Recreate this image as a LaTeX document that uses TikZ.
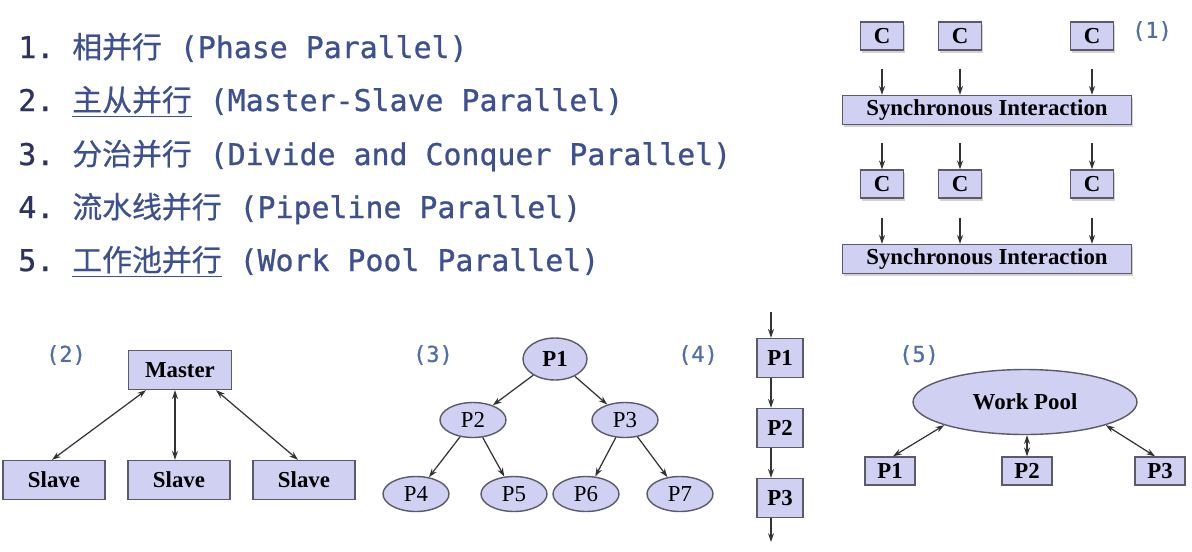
\documentclass[tikz,border=0pt]{standalone}
\usepackage{fontspec}
\setmainfont{Liberation Serif}
\setmonofont[FakeBold=0.8]{DejaVu Sans Mono}
\newfontfamily\cjk[FakeBold=0.6]{Noto Sans CJK SC}
\usepackage{xcolor}
\usepackage{tikz}
\usetikzlibrary{arrows.meta,positioning,shapes.geometric,calc,shadows}

\definecolor{listblue}{HTML}{3D5191}
\definecolor{numblue}{HTML}{2E3262}
\definecolor{tagblue}{HTML}{4F6FA6}
\definecolor{boxfill}{HTML}{D0D0F2}
\definecolor{boxline}{HTML}{5A5A6A}

\begin{document}
\begin{tikzpicture}[
  x=0.02cm, y=-0.02cm,
  item/.style={anchor=base west, inner sep=0pt, font=\ttfamily\fontsize{17}{20}\selectfont, text=listblue},
  tag/.style={inner sep=0pt, font=\ttfamily\fontsize{12.5}{15}\selectfont, text=tagblue},
  box/.style={rectangle, draw=boxline, fill=boxfill, line width=0.8pt, inner sep=0pt, font=\bfseries\fontsize{13}{15}\selectfont},
  shade/.style={drop shadow={shadow xshift=1pt, shadow yshift=-1.5pt, opacity=0.35}},
  ell/.style={ellipse, draw=boxline, fill=boxfill, line width=0.8pt, inner sep=0pt, font=\fontsize{13}{15}\selectfont, minimum width=1.32cm, minimum height=0.7cm},
  arr/.style={draw=black!80, line width=0.7pt, -{Stealth[length=5pt,width=3.4pt]}},
  darr/.style={draw=black!80, line width=0.7pt, {Stealth[length=5pt,width=3.4pt]}-{Stealth[length=5pt,width=3.4pt]}}
]
  \fill[white] (0,0) rectangle (1192,551);
  \useasboundingbox (0,0) rectangle (1192,551);

  % list of patterns
  \node[item] (l1) at (18,58) {\textcolor{numblue}{1.} {\cjk 相并行} (Phase Parallel)};
  \node[item] (l2) at (18,111) {\textcolor{numblue}{2.} \underline{\cjk 主从并行} (Master-Slave Parallel)};
  \node[item] (l3) at (18,165) {\textcolor{numblue}{3.} {\cjk 分治并行} (Divide and Conquer Parallel)};
  \node[item] (l4) at (18,218) {\textcolor{numblue}{4.} {\cjk 流水线并行} (Pipeline Parallel)};
  \node[item] (l5) at (18,271) {\textcolor{numblue}{5.} \underline{\cjk 工作池并行} (Work Pool Parallel)};

  % (1) phase parallel
  \node[tag] (tag1) at (1152,31) {(1)};
  \foreach \n/\x/\y in {c1/882/36, c2/960/36, c3/1092/36, c4/882/184, c5/960/184, c6/1092/184}
    \node[box, shade, minimum width=0.86cm, minimum height=0.56cm] (\n) at (\x,\y) {C};
  \node[box, shade, minimum width=5.78cm, minimum height=0.58cm] (si1) at (987,110) {Synchronous Interaction};
  \node[box, shade, minimum width=5.78cm, minimum height=0.58cm] (si2) at (987,259) {Synchronous Interaction};
  \foreach \a/\b in {c1/c4, c2/c5, c3/c6} {
    \draw[arr, shorten <=0.36cm] (\a.south) -- (\a.south |- si1.north);
    \draw[arr, shorten <=0.36cm] (\b.north |- si1.south) -- (\b.north);
    \draw[arr, shorten <=0.38cm] (\b.south) -- (\b.south |- si2.north);
  }

  % (2) master-slave
  \node[tag] (tag2) at (66,355) {(2)};
  \node[box, minimum width=2.06cm, minimum height=0.78cm] (master) at (180,370) {Master};
  \node[box, minimum width=2.04cm, minimum height=0.78cm] (s1) at (54,480) {Slave};
  \node[box, minimum width=2.04cm, minimum height=0.78cm] (s2) at (179,480) {Slave};
  \node[box, minimum width=2.04cm, minimum height=0.78cm] (s3) at (304,480) {Slave};
  \draw[darr] ($(master.south)+(-34,0)$) -- ($(s1.north)+(-2,0)$);
  \draw[darr] ($(master.south)+(-5,0)$) -- ($(s2.north)+(-4,0)$);
  \draw[darr] ($(master.south)+(36,0)$) -- ($(s3.north)+(-6,0)$);

  % (3) divide and conquer
  \node[tag] (tag3) at (433,355) {(3)};
  \node[ell, font=\bfseries\fontsize{13}{15}\selectfont, minimum width=1.28cm, minimum height=0.84cm] (t1) at (555,359) {P1};
  \node[ell] (t2) at (473,420) {P2};
  \node[ell] (t3) at (625,420) {P3};
  \node[ell] (t4) at (416,494) {P4};
  \node[ell] (t5) at (514,494) {P5};
  \node[ell] (t6) at (586,494) {P6};
  \node[ell] (t7) at (680,494) {P7};
  \foreach \a/\b in {t1/t2, t1/t3, t2/t4, t2/t5, t3/t6, t3/t7}
    \draw[arr] (\a) -- (\b);

  % (4) pipeline
  \node[tag] (tag4) at (698,355) {(4)};
  \node[box, minimum width=0.92cm, minimum height=0.78cm] (q1) at (780,358) {P1};
  \node[box, minimum width=0.92cm, minimum height=0.78cm] (q2) at (780,428) {P2};
  \node[box, minimum width=0.92cm, minimum height=0.78cm] (q3) at (780,498) {P3};
  \coordinate (qin) at (771,312);
  \coordinate (qout) at (771,542);
  \draw[arr] (qin) -- (qin |- q1.north);
  \draw[arr] (qin |- q1.south) -- (qin |- q2.north);
  \draw[arr] (qin |- q2.south) -- (qin |- q3.north);
  \draw[arr] (qin |- q3.south) -- (qout);

  % (5) work pool
  \node[tag] (tag5) at (919,355) {(5)};
  \node[ell, font=\bfseries\fontsize{13}{15}\selectfont, minimum width=4.48cm, minimum height=1.3cm] (pool) at (1025,402) {Work Pool};
  \node[box, minimum width=1cm, minimum height=0.56cm] (r1) at (890,471) {P1};
  \node[box, minimum width=1cm, minimum height=0.56cm] (r2) at (1027,471) {P2};
  \node[box, minimum width=1cm, minimum height=0.56cm] (r3) at (1160,471) {P3};
  \draw[darr] ($(r1.north)+(3,0)$) -- (pool.196);
  \draw[darr] (r2.north) -- (r2.north |- pool.south);
  \draw[darr] ($(r3.north)+(-5,0)$) -- (pool.344);
\end{tikzpicture}
\end{document}
